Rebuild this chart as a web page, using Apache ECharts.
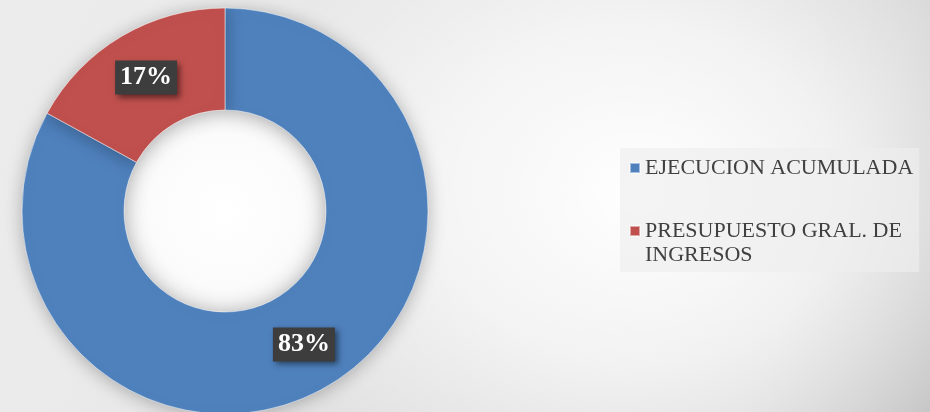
<!DOCTYPE html>
<html>
<head>
<meta charset="utf-8">
<script src="https://cdn.jsdelivr.net/npm/echarts@6/dist/echarts.min.js"></script>
<style>
  html, body { margin: 0; padding: 0; }
  #chart {
    width: 930px; height: 412px;
    background:
      radial-gradient(circle 102px at 225px 211px, #ffffff 0%, #fbfbfb 75%, #eeeeee 100%, rgba(255,255,255,0) 100%),
      radial-gradient(ellipse 400px 340px at 640px 195px, rgba(255,255,255,1) 0%, rgba(255,255,255,0.65) 50%, rgba(255,255,255,0) 100%),
      linear-gradient(115deg, #ececec 0%, #ebebeb 20%, #d6d6d6 83%, #c4c4c4 100%);
  }
</style>
</head>
<body>
<div id="chart"></div>
<script>
// Data
const categories = ['EJECUCION ACUMULADA', 'PRESUPUESTO GRAL. DE INGRESOS'];
const legendLabels = ['EJECUCION ACUMULADA', ' \nPRESUPUESTO GRAL. DE\nINGRESOS'];
const values = [83, 17];
const colors = ['#4f81bd', '#c0504d'];

const chart = echarts.init(document.getElementById('chart'), null, { renderer: 'canvas' });

const labelMap = {};
categories.forEach((c, i) => { labelMap[c] = legendLabels[i]; });

const option = {
  backgroundColor: 'transparent',
  animation: false,
  legend: {
    orient: 'vertical',
    left: 620,
    top: 148,
    padding: [8, 6, 5, 9],
    itemGap: 15,
    itemWidth: 10,
    itemHeight: 10,
    icon: 'rect',
    backgroundColor: 'rgba(238,238,238,0.65)',
    formatter: name => labelMap[name],
    textStyle: {
      fontFamily: 'Liberation Serif',
      fontSize: 22,
      lineHeight: 24,
      color: '#404040'
    },
    data: categories
  },
  series: [{
    type: 'pie',
    center: [225, 211],
    radius: [101, 203],
    startAngle: 90,
    clockwise: true,
    silent: true,
    itemStyle: {
      borderColor: 'rgba(255,255,255,0.5)',
      borderWidth: 1,
      shadowBlur: 18,
      shadowColor: 'rgba(0,0,0,0.28)',
      shadowOffsetX: 0,
      shadowOffsetY: 2
    },
    label: {
      show: true,
      position: 'inside',
      formatter: '{d}%',
      color: '#ffffff',
      fontFamily: 'Liberation Serif',
      fontWeight: 'bold',
      fontSize: 26,
      backgroundColor: '#3d3d3d',
      padding: [5, 5, 3, 5],
      shadowColor: 'rgba(0,0,0,0.5)',
      shadowBlur: 6,
      shadowOffsetX: 3,
      shadowOffsetY: 3
    },
    labelLine: { show: false },
    data: categories.map((c, i) => ({
      name: c,
      value: values[i],
      itemStyle: { color: colors[i] }
    }))
  }]
};
option.color = colors;
chart.setOption(option);
</script>
</body>
</html>
